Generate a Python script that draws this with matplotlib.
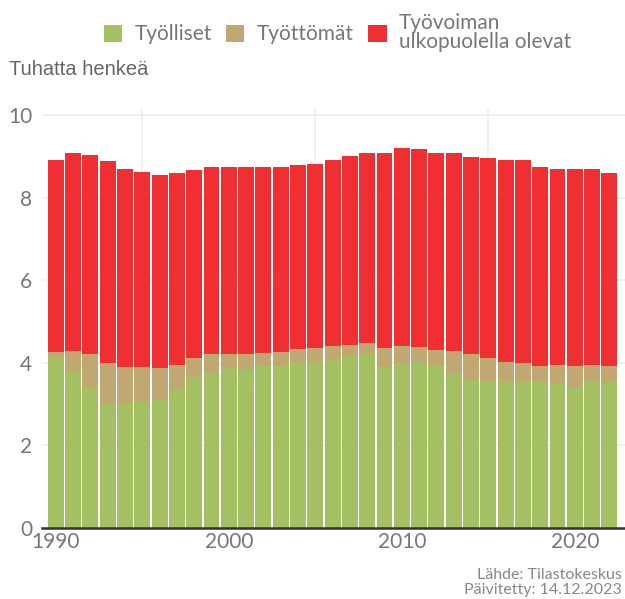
import numpy as np
import matplotlib.pyplot as plt

years = list(range(1990, 2023))

# tuhatta henkeä, luettu kuvasta
tyolliset = [4.13, 3.80, 3.39, 3.02, 3.02, 3.05, 3.10, 3.35, 3.65, 3.75,
             3.89, 3.83, 3.93, 3.93, 4.02, 4.02, 4.09, 4.16, 4.22, 3.89,
             3.99, 4.02, 3.93, 3.73, 3.61, 3.55, 3.55, 3.55, 3.55, 3.50,
             3.41, 3.53, 3.53]
tyottomat_top = [4.26, 4.28, 4.21, 3.99, 3.89, 3.89, 3.87, 3.94, 4.11, 4.21,
                 4.21, 4.21, 4.23, 4.26, 4.33, 4.35, 4.40, 4.43, 4.47, 4.35,
                 4.40, 4.38, 4.30, 4.28, 4.21, 4.11, 4.01, 3.99, 3.92, 3.94,
                 3.92, 3.94, 3.92]
yhteensa = [8.90, 9.07, 9.02, 8.88, 8.68, 8.61, 8.54, 8.59, 8.66, 8.73,
            8.75, 8.73, 8.75, 8.75, 8.78, 8.80, 8.92, 9.00, 9.07, 9.09,
            9.21, 9.17, 9.09, 9.07, 8.97, 8.95, 8.90, 8.90, 8.75, 8.70,
            8.68, 8.70, 8.59]

tyottomat = np.array(tyottomat_top) - np.array(tyolliset)
ulkopuoliset = np.array(yhteensa) - np.array(tyottomat_top)

green = "#a3c163"
tan = "#c1a873"
red = "#f02f32"

plt.rcParams["font.family"] = ["Lato", "DejaVu Sans"]

fig = plt.figure(figsize=(6.25, 5.99), dpi=100)
ax = fig.add_axes([0.0672, 0.1185, 0.9328, 0.70])

w = 0.92
ax.bar(years, tyolliset, width=w, color=green, label="Työlliset", zorder=2)
ax.bar(years, tyottomat, width=w, bottom=tyolliset, color=tan,
       label="Työttömät", zorder=2)
ax.bar(years, ulkopuoliset, width=w, bottom=tyottomat_top, color=red,
       label="Työvoiman\nulkopuolella olevat", zorder=2)

ax.set_xlim(1989.2, 2022.9)
ax.set_ylim(0, 10.15)
ax.set_yticks([0, 2, 4, 6, 8, 10])
ax.set_xticks([1990, 2000, 2010, 2020])
ax.set_xticks(range(1990, 2023, 5), minor=True)
ax.grid(True, axis="y", color="#eeeeee", lw=1.2, zorder=0)
ax.grid(True, axis="x", which="minor", color="#eeeeee", lw=1.2, zorder=0)
ax.grid(False, axis="x", which="major")
ax.tick_params(axis="both", which="both", length=0, labelsize=15,
               labelcolor="#777777")
ax.tick_params(axis="y", pad=7)
ax.tick_params(axis="x", pad=3)
for s in ["top", "right", "left"]:
    ax.spines[s].set_visible(False)
ax.spines["bottom"].set_color("#333333")
ax.spines["bottom"].set_linewidth(1.8)
ax.spines["bottom"].set_zorder(3)

fig.text(0.015, 0.884, "Tuhatta henkeä", fontsize=14.5, color="#666666",
         family=["Liberation Sans", "DejaVu Sans"], va="center")

leg = fig.legend(loc="center", bbox_to_anchor=(0.54, 0.946), ncol=3,
                 frameon=False, fontsize=15, handlelength=0.87,
                 handleheight=0.87, handletextpad=0.6, columnspacing=0.7,
                 labelspacing=0)
for t in leg.get_texts():
    t.set_color("#777777")
    t.set_linespacing(0.95)

fig.text(0.995, 0.027, "Lähde: Tilastokeskus\nPäivitetty: 14.12.2023",
         ha="right", va="center", fontsize=11.5, color="#888888",
         linespacing=1.1)

fig.savefig("out.png", dpi=100)
